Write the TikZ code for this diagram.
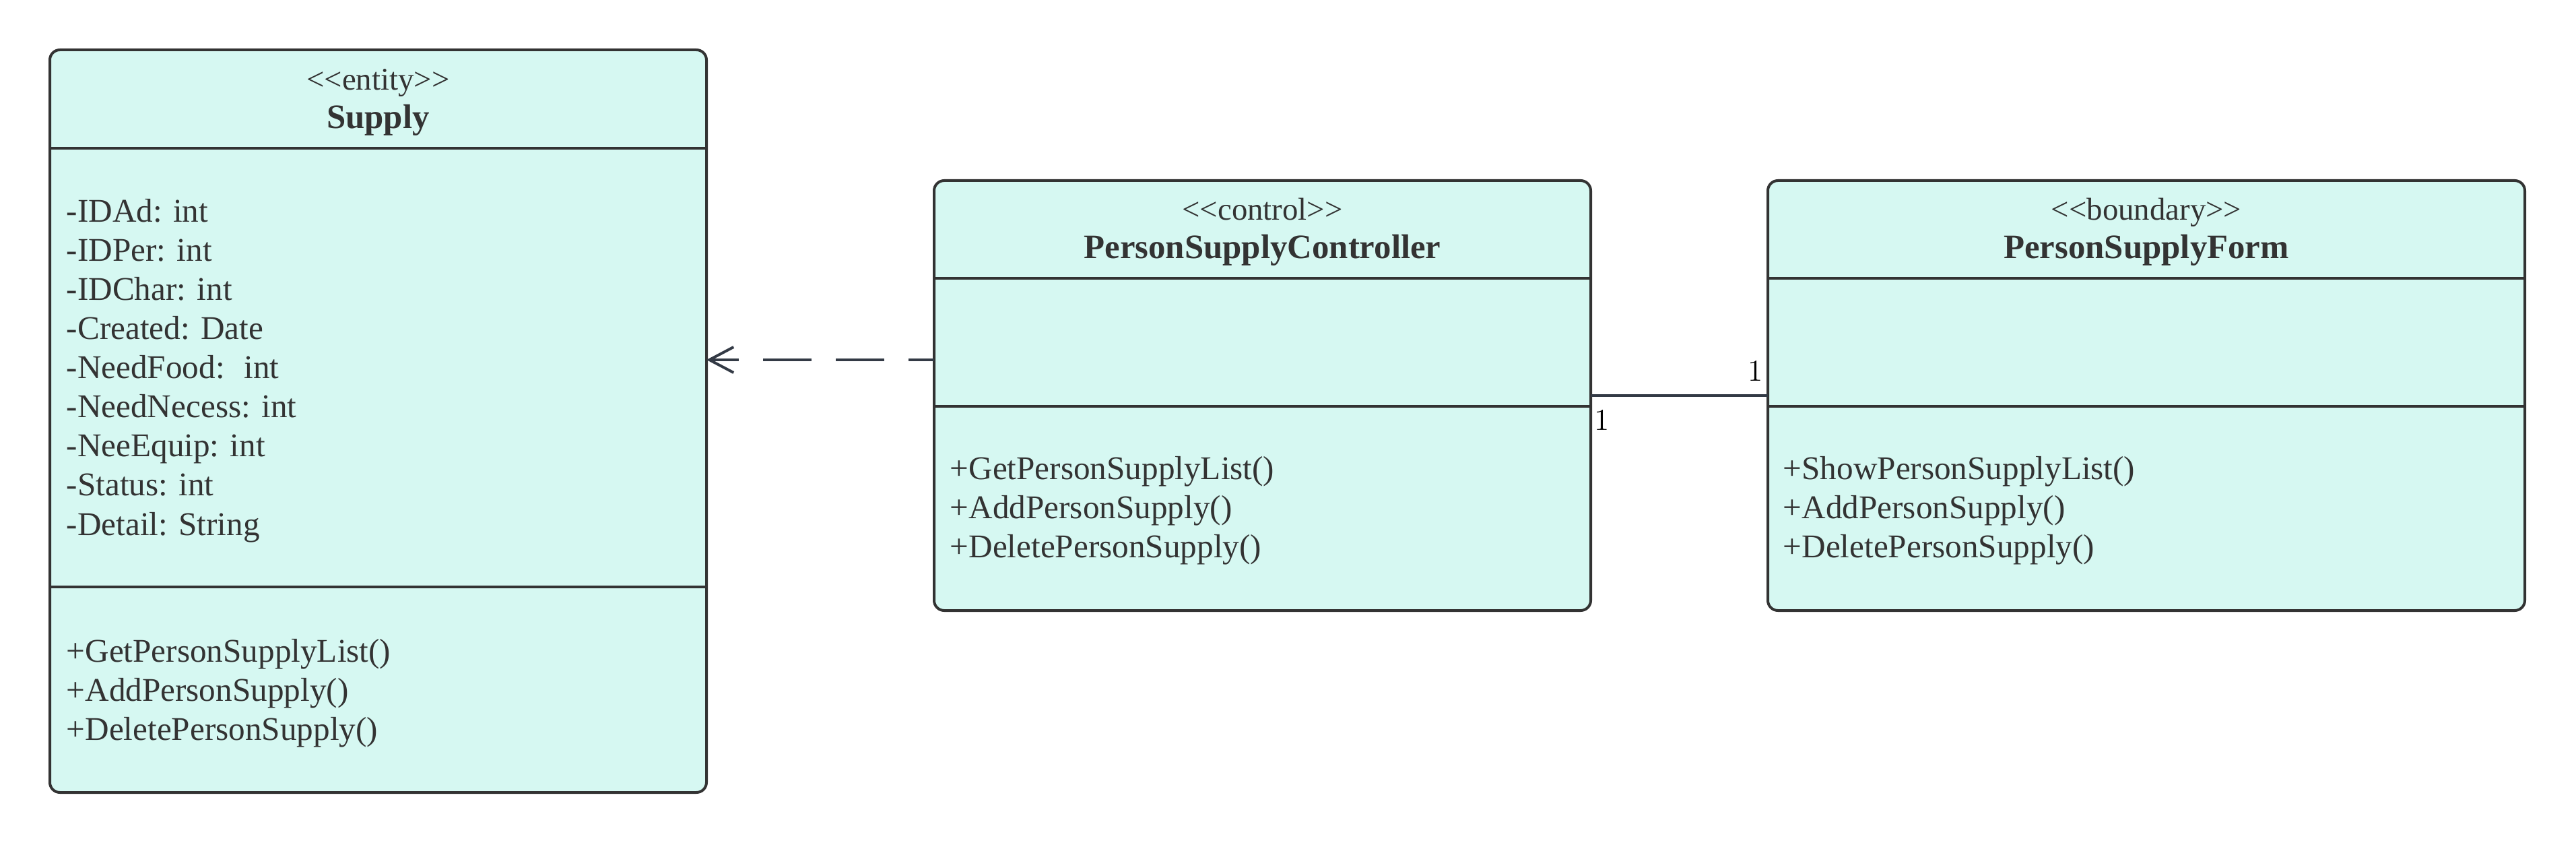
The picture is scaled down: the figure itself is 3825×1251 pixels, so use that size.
\documentclass[tikz,border=0pt]{standalone}
\usepackage{fontspec}
\newfontfamily\libserif{Liberation Serif}
\usetikzlibrary{arrows.meta}
\definecolor{boxfill}{HTML}{D6F8F2}
\definecolor{boxline}{HTML}{333333}
\definecolor{linkc}{HTML}{333A45}
\definecolor{txtc}{HTML}{333333}
\newcommand\clsfont{\libserif\fontsize{12.3}{14.5}\selectfont}
\newcommand\stfont{\libserif\fontsize{11.7}{14.5}\selectfont}
\newcommand\clsbold{\libserif\bfseries\fontsize{12.7}{14.5}\selectfont}
\begin{document}
\begin{tikzpicture}[x=0.25pt,y=-0.25pt,
  classbox/.style={draw=boxline, fill=boxfill, line width=1pt, rounded corners=3.75pt,
    anchor=north west, inner sep=0pt, outer sep=0pt},
  sepline/.style={draw=boxline, line width=0.9pt},
  member/.style={font=\clsfont, text=txtc, inner sep=0pt, anchor=base west},
  stereo/.style={font=\stfont, text=txtc, inner sep=0pt, anchor=base},
  clsname/.style={font=\clsbold, text=txtc, inner sep=0pt, anchor=base},
  mult/.style={font=\fontsize{11.3}{13}\selectfont, text=black, inner sep=0pt},
  deplink/.style={draw=linkc, line width=1pt, dash pattern=on 18pt off 9pt, dash phase=8.5pt,
    -{Straight Barb[length=9pt,width=9.5pt,line width=1pt]}},
  assoc/.style={draw=linkc, line width=0.85pt}
]
\path[fill=white] (0,0) rectangle (3825,1251);

% Supply
\node[classbox, minimum width=243.75pt, minimum height=275.5pt] (supply) at (74,74) {};
\draw[sepline] (supply.west |- 0,220) -- (supply.east |- 0,220);
\draw[sepline] (supply.west |- 0,871) -- (supply.east |- 0,871);
\node[stereo] (supplyst) at (561.5,134) {<{}<entity>{}>};
\node[clsname] (supplynm) at (561.5,191) {Supply};
\foreach \t [count=\i] in {-IDAd: int, -IDPer: int, -IDChar: int, -Created: Date,
  -NeedFood:~ int, -NeedNecess: int, -NeeEquip: int, -Status: int, -Detail: String}
  \node[member] (sa\i) at (98,{330+58*(\i-1)}) {\t};
\foreach \t [count=\i] in {+GetPersonSupplyList(), +AddPersonSupply(), +DeletePersonSupply()}
  \node[member] (sm\i) at (98,{982+58*(\i-1)}) {\t};

% Controller
\node[classbox, minimum width=243.75pt, minimum height=159.5pt] (ctrl) at (1387,268) {};
\draw[sepline] (ctrl.west |- 0,413) -- (ctrl.east |- 0,413);
\draw[sepline] (ctrl.west |- 0,603) -- (ctrl.east |- 0,603);
\node[stereo] (ctrlst) at (1874.5,327) {<{}<control>{}>};
\node[clsname] (ctrlnm) at (1874.5,384) {PersonSupplyController};
\foreach \t [count=\i] in {+GetPersonSupplyList(), +AddPersonSupply(), +DeletePersonSupply()}
  \node[member] (cm\i) at (1410,{712+58*(\i-1)}) {\t};

% Form
\node[classbox, minimum width=281pt, minimum height=159.5pt] (form) at (2625,268) {};
\draw[sepline] (form.west |- 0,413) -- (form.east |- 0,413);
\draw[sepline] (form.west |- 0,603) -- (form.east |- 0,603);
\node[stereo] (formst) at (3187,327) {<{}<boundary>{}>};
\node[clsname] (formnm) at (3187,384) {PersonSupplyForm};
\foreach \t [count=\i] in {+ShowPersonSupplyList(), +AddPersonSupply(), +DeletePersonSupply()}
  \node[member] (fm\i) at (2647,{712+58*(\i-1)}) {\t};

% Dependency
\coordinate (dstart) at (ctrl.west |- 0,534);
\draw[deplink] (dstart) -- (dstart -| supply.east);

% Association
\draw[assoc] (ctrl.east) -- (form.west);
\node[mult, anchor=base east] (m1) at (2618,566) {1};
\node[mult, anchor=north west] (m2) at (2367,608) {1};
\end{tikzpicture}
\end{document}
